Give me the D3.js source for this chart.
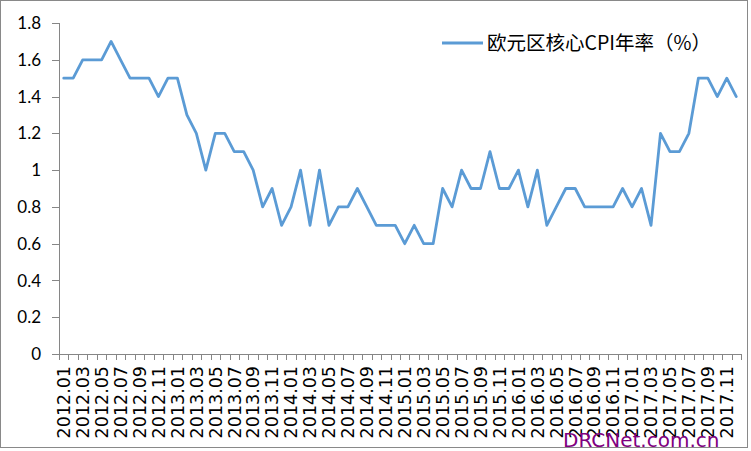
<!DOCTYPE html>
<html>
<head>
<meta charset="utf-8">
<script src="https://cdn.jsdelivr.net/npm/d3@7"></script>
<style>
  body { margin: 0; background: #fff; }
  svg { display: block; }
</style>
</head>
<body>
<svg id="chart" width="751" height="451"></svg>
<script>
// category labels: one per month 2012.01 .. 2017.12
var years = ["2012", "2013", "2014", "2015", "2016", "2017"]
var monthNums = ["01","02","03","04","05","06","07","08","09","10","11","12"]
var months = []
years.forEach(y => monthNums.forEach(m => months.push(y + "." + m)))

// 欧元区核心CPI年率 (%)
var coreCpi = [
  1.5, 1.5, 1.6, 1.6, 1.6, 1.7, 1.6, 1.5, 1.5, 1.5, 1.4, 1.5,
  1.5, 1.3, 1.2, 1.0, 1.2, 1.2, 1.1, 1.1, 1.0, 0.8, 0.9, 0.7,
  0.8, 1.0, 0.7, 1.0, 0.7, 0.8, 0.8, 0.9, 0.8, 0.7, 0.7, 0.7,
  0.6, 0.7, 0.6, 0.6, 0.9, 0.8, 1.0, 0.9, 0.9, 1.1, 0.9, 0.9,
  1.0, 0.8, 1.0, 0.7, 0.8, 0.9, 0.9, 0.8, 0.8, 0.8, 0.8, 0.9,
  0.8, 0.9, 0.7, 1.2, 1.1, 1.1, 1.2, 1.5, 1.5, 1.4, 1.5, 1.4
]
var yTicks = [0, 0.2, 0.4, 0.6, 0.8, 1, 1.2, 1.4, 1.6, 1.8]
var seriesName = "欧元区核心CPI年率（%）"

var plotLeft = 59, plotRight = 741, plotTop = 23, plotBottom = 354
var axisColor = "#868686"

var svg = d3.select("#chart")

// outer border
svg.append("rect")
  .attr("x", 0.5).attr("y", 0.5)
  .attr("width", 747).attr("height", 447)
  .attr("fill", "#fff")
  .attr("stroke", "#898989")
  .attr("stroke-width", 1)

var x = d3.scaleBand().domain(months).range([plotLeft, plotRight]).padding(0)
var y = d3.scaleLinear().domain([0, 1.8]).range([plotBottom, plotTop])

// y axis
svg.append("line")
  .attr("x1", plotLeft + 0.5).attr("x2", plotLeft + 0.5)
  .attr("y1", plotTop).attr("y2", plotBottom)
  .attr("stroke", axisColor)

svg.selectAll(".ytick")
  .data(yTicks)
  .join("line")
  .attr("class", "ytick")
  .attr("x1", plotLeft - 7).attr("x2", plotLeft)
  .attr("y1", d => Math.round(y(d)) + 0.5)
  .attr("y2", d => Math.round(y(d)) + 0.5)
  .attr("stroke", axisColor)

svg.selectAll(".ylabel")
  .data(yTicks)
  .join("text")
  .attr("class", "ylabel")
  .attr("x", 41)
  .attr("y", d => y(d))
  .attr("dy", "0.36em")
  .attr("text-anchor", "end")
  .style("font-family", "Lato, 'Open Sans', sans-serif")
  .style("font-size", "17px")
  .attr("fill", "#000")
  .text(d => d3.format("")(d))

// x axis
svg.append("line")
  .attr("x1", plotLeft).attr("x2", plotRight)
  .attr("y1", plotBottom + 0.5).attr("y2", plotBottom + 0.5)
  .attr("stroke", axisColor)

var boundaries = months.map(d => x(d)).concat([plotRight])
svg.selectAll(".xtick")
  .data(boundaries)
  .join("line")
  .attr("class", "xtick")
  .attr("x1", d => Math.round(d) + 0.5).attr("x2", d => Math.round(d) + 0.5)
  .attr("y1", plotBottom).attr("y2", plotBottom + 6)
  .attr("stroke", axisColor)

svg.selectAll(".xlabel")
  .data(months.filter((d, i) => i % 2 == 0))
  .join("text")
  .attr("class", "xlabel")
  .attr("transform", d => `translate(${x(d) + x.bandwidth() / 2},366) rotate(-90)`)
  .attr("dy", "0.36em")
  .attr("text-anchor", "end")
  .style("font-family", "'DejaVu Sans', sans-serif")
  .style("font-size", "17.5px")
  .attr("fill", "#000")
  .text(d => d)

// series line
var line = d3.line()
  .x((d, i) => x(months[i]) + x.bandwidth() / 2)
  .y(d => y(d))

svg.append("path")
  .datum(coreCpi)
  .attr("d", line)
  .attr("fill", "none")
  .attr("stroke", "#5B9BD5")
  .attr("stroke-width", 2.8)
  .attr("stroke-linejoin", "round")
  .attr("stroke-linecap", "round")

// legend
svg.append("line")
  .attr("x1", 442).attr("x2", 483)
  .attr("y1", 43).attr("y2", 43)
  .attr("stroke", "#5B9BD5")
  .attr("stroke-width", 2.8)

svg.append("text")
  .attr("x", 487).attr("y", 43)
  .attr("dy", "0.36em")
  .style("font-family", "'Noto Sans CJK SC', sans-serif")
  .style("font-size", "19.5px")
  .attr("fill", "#000")
  .text(seriesName)

// watermark
svg.append("text")
  .attr("x", 563).attr("y", 447)
  .style("font-family", "'DejaVu Sans', sans-serif")
  .style("font-size", "20px")
  .attr("fill", "#800080")
  .text("DRCNet.com.cn")
</script>
</body>
</html>
